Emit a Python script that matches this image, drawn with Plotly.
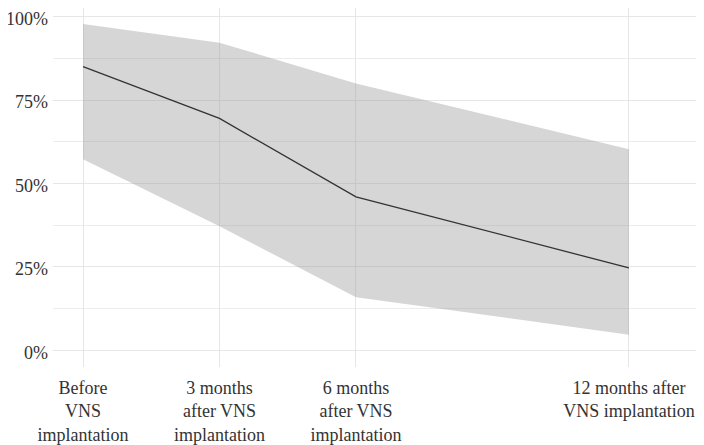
import plotly.graph_objects as go

months = [0, 3, 6, 12]
tick_labels = ["Before<br>VNS<br>implantation",
               "3 months<br>after VNS<br>implantation",
               "6 months<br>after VNS<br>implantation",
               "12 months after<br>VNS implantation"]
mean_vals = [0.85, 0.695, 0.46, 0.247]
upper_vals = [0.978, 0.922, 0.80, 0.603]
lower_vals = [0.573, 0.372, 0.159, 0.047]
y_ticks = [0, 0.25, 0.5, 0.75, 1.0]
y_labels = ["0%", "25%", "50%", "75%", "100%"]

font_family = "Liberation Serif"
text_color = "#333333"

fig = go.Figure()
fig.add_trace(go.Scatter(x=months, y=lower_vals, mode="lines",
                         line=dict(width=0), showlegend=False, hoverinfo="skip"))
fig.add_trace(go.Scatter(x=months, y=upper_vals, mode="lines",
                         line=dict(width=0), fill="tonexty",
                         fillcolor="rgba(153,153,153,0.4)",
                         showlegend=False, hoverinfo="skip"))
fig.add_trace(go.Scatter(x=months, y=mean_vals, mode="lines",
                         line=dict(color="#333333", width=1.3),
                         showlegend=False))

# page body has an 8px margin, so the figure is sized/offset to compensate
fig.update_layout(
    width=696, height=437,
    margin=dict(l=45, r=0, t=0, b=78),
    paper_bgcolor="white", plot_bgcolor="white",
    font=dict(family=font_family, size=18, color=text_color),
)
fig.update_xaxes(
    range=[-0.66, 13.65], tickvals=months, ticktext=tick_labels,
    showgrid=True, gridcolor="#e6e6e6", gridwidth=1,
    zeroline=False, showline=False, ticks="", automargin=False,
    ticklabelstandoff=8, ticklabeloverflow="allow",
    tickfont=dict(family=font_family, size=18, color=text_color),
)
fig.update_yaxes(
    range=[-0.05, 1.026], tickvals=y_ticks, ticktext=y_labels,
    showgrid=True, gridcolor="#e6e6e6", gridwidth=1,
    minor=dict(tickvals=[0.125, 0.375, 0.625, 0.875], showgrid=True,
               gridcolor="#ececec", gridwidth=1, ticks=""),
    zeroline=False, showline=False, ticks="", automargin=False,
    ticklabelstandoff=4, ticklabeloverflow="allow", ticklabelshift=2,
    tickfont=dict(family=font_family, size=18, color=text_color),
)

fig.write_html("out.html")
